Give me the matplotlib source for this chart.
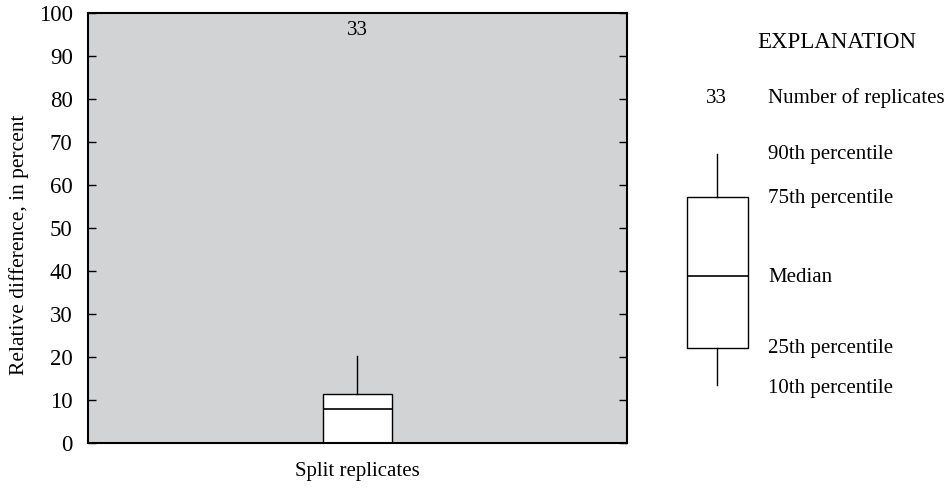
import matplotlib.pyplot as plt

plt.rcParams['font.family'] = ['Liberation Serif', 'DejaVu Serif']

# data
groups = ['Split replicates']
n_replicates = [33]
p10 = [0.0]
p25 = [0.0]
median = [7.9]
p75 = [11.5]
p90 = [20.2]

yticks = list(range(0, 101, 10))

fig = plt.figure(figsize=(9.51, 4.91), dpi=100)
ax = fig.add_axes([0.0925, 0.0978, 0.5665, 0.8757])
ax.set_facecolor('#d1d3d4')

stats = []
for i, g in enumerate(groups):
    stats.append(dict(label=g, whislo=p10[i], q1=p25[i], med=median[i],
                      q3=p75[i], whishi=p90[i], fliers=[]))

line = dict(color='black', linewidth=1.0)
ax.bxp(stats, positions=[1], widths=0.141, showcaps=False, patch_artist=True,
       boxprops=dict(facecolor='white', edgecolor='black', linewidth=1.0),
       medianprops=dict(color='black', linewidth=1.2),
       whiskerprops=line)

for i, n in enumerate(n_replicates):
    ax.text(i + 1, 96, str(n), ha='center', va='center', fontsize=15)

ax.set_xlim(0.45, 1.55)
ax.set_ylim(0, 100)
ax.set_yticks(yticks)
ax.tick_params(axis='y', direction='in', length=6, width=1, right=True,
               labelsize=16.5, pad=11)
ax.tick_params(axis='x', length=0, labelsize=15, pad=14)
ax.set_ylabel('Relative difference, in percent', fontsize=15.5)
ax.yaxis.set_label_coords(-0.11, 0.46)
for s in ax.spines.values():
    s.set_linewidth(1.5)

# explanation diagram
lx = fig.add_axes([0, 0, 1, 1])
lx.set_xlim(0, 951)
lx.set_ylim(491, 0)
lx.axis('off')
demo = [dict(whislo=385, q1=348, med=276, q3=197, whishi=154, fliers=[])]
lx.bxp(demo, positions=[717], widths=61, showcaps=False, patch_artist=True,
       boxprops=dict(facecolor='white', edgecolor='black', linewidth=1.0),
       medianprops=dict(color='black', linewidth=1.2),
       whiskerprops=line)
lx.text(837, 42, 'EXPLANATION', ha='center', va='center', fontsize=16.5)
lx.text(716, 98, '33', ha='center', va='center', fontsize=15)
labels = [('Number of replicates', 98), ('90th percentile', 155),
          ('75th percentile', 198), ('Median', 277),
          ('25th percentile', 348), ('10th percentile', 389)]
for t, y in labels:
    lx.text(768, y, t, ha='left', va='center', fontsize=15)

fig.savefig('out.png', dpi=100)
